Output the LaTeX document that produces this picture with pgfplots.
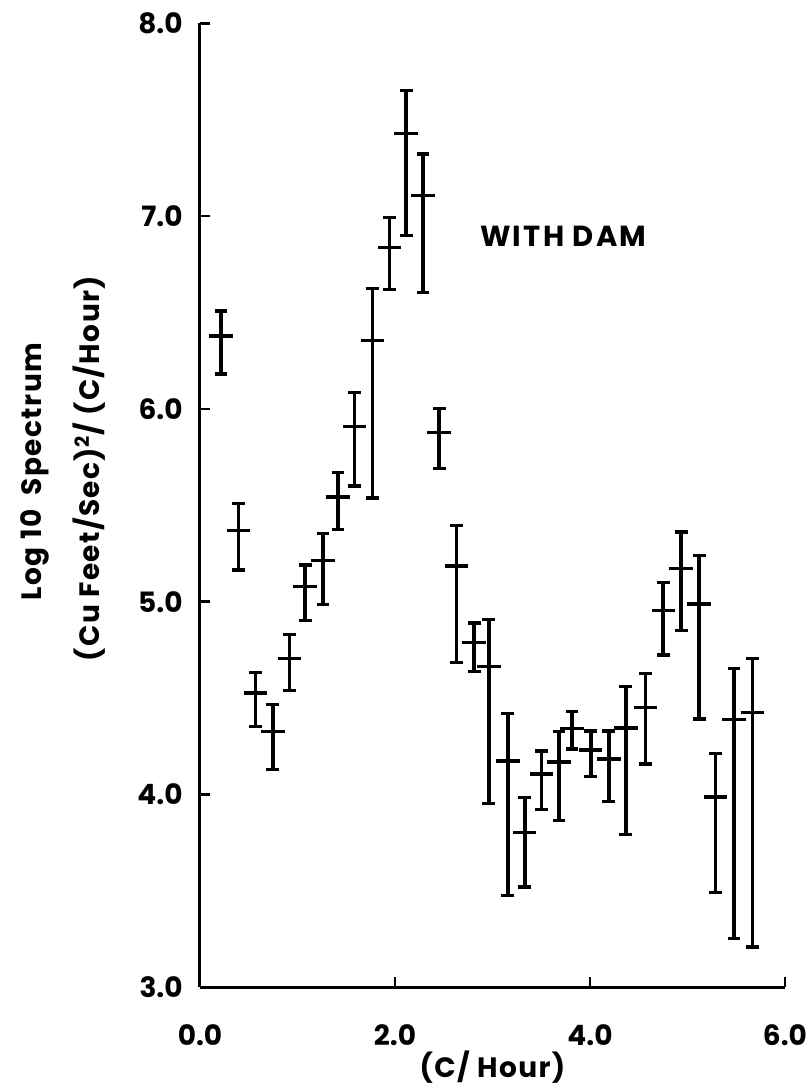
\documentclass[border=0pt]{standalone}
\usepackage{fontspec}
\setmainfont{Poppins}
\usepackage{pgfplots}
\usepackage{pgfplotstable}
\pgfplotsset{compat=1.18}

\pgfplotstableread{
x      y      ep     em
0.216  6.378  0.130  0.198
0.394  5.368  0.142  0.204
0.568  4.526  0.108  0.172
0.747  4.326  0.140  0.195
0.918  4.704  0.127  0.166
1.079  5.080  0.110  0.176
1.261  5.213  0.142  0.226
1.415  5.543  0.126  0.168
1.586  5.910  0.174  0.310
1.768  6.356  0.267  0.818
1.943  6.838  0.156  0.218
2.114  7.427  0.225  0.527
2.288  7.106  0.216  0.503
2.453  5.877  0.126  0.185
2.631  5.185  0.211  0.501
2.812  4.787  0.103  0.150
2.963  4.663  0.246  0.709
3.158  4.174  0.247  0.697
3.331  3.804  0.179  0.284
3.502  4.106  0.120  0.183
3.683  4.169  0.157  0.305
3.816  4.343  0.086  0.107
4.008  4.231  0.098  0.139
4.193  4.184  0.145  0.221
4.368  4.345  0.216  0.554
4.570  4.453  0.175  0.294
4.751  4.956  0.143  0.233
4.935  5.172  0.190  0.321
5.120  4.988  0.251  0.597
5.287  3.987  0.225  0.496
5.478  4.389  0.266  1.135
5.666  4.427  0.279  1.219
}\spectrum

\newcommand{\lblfont}{\fontsize{14}{16}\selectfont\bfseries\addfontfeatures{LetterSpace=5}}
\begin{document}
\begin{tikzpicture}[font=\bfseries]
\useasboundingbox (-100pt,-50.35pt) rectangle (304.5pt,493.65pt);
\begin{axis}[
  scale only axis,
  width=292.5pt, height=482pt,
  xmin=0, xmax=6, ymin=3, ymax=8,
  axis lines=left,
  axis line style={line width=1.5pt, -},
  xtick={0,2,4,6},
  xticklabels={0.0,2.0,4.0,6.0},
  ytick={3,4,5,6,7,8},
  yticklabels={3.0,4.0,5.0,6.0,7.0,8.0},
  tick align=inside,
  major tick length=5pt,
  tick style={line width=1.3pt, black},
  xticklabel style={anchor=base, inner sep=0pt, yshift=-29pt, font=\fontsize{14}{16}\selectfont\bfseries},
  yticklabel style={anchor=east, inner sep=0pt, xshift=-8.5pt, font=\fontsize{14}{16}\selectfont\bfseries},
  clip=false,
]
\addplot[draw=none, mark=none,
  error bars/.cd, y dir=both, y explicit,
  error mark=-,
  error bar style={draw=black, line width=1.8pt, solid},
  error mark options={rotate=90, draw=black, line width=1.7pt, mark size=3.2pt, solid}]
  table[x=x, y=y, y error plus=ep, y error minus=em] {\spectrum};
\addplot[draw=none, mark=none,
  error bars/.cd, x dir=both, x fixed=0.12,
  error bar style={draw=black, line width=1.6pt, solid},
  error mark=none]
  table[x=x, y=y] {\spectrum};

\node[anchor=base, font=\fontsize{14.5}{16}\selectfont\bfseries\addfontfeatures{LetterSpace=8}] at (axis cs:3.726,6.841) {WITH DAM};
\node[anchor=base, font=\lblfont] at (axis cs:3.0,2.530) {(C/ Hour)};
\node[anchor=base, rotate=90, font=\lblfont] at (axis cs:-1.627,5.675) {Log 10\ \ Spectrum};
\node[anchor=base, rotate=90, font=\lblfont] at (axis cs:-1.028,5.69) {(Cu Feet/Sec)\textsuperscript{2}/ (C/Hour)};
\end{axis}
\end{tikzpicture}
\end{document}
